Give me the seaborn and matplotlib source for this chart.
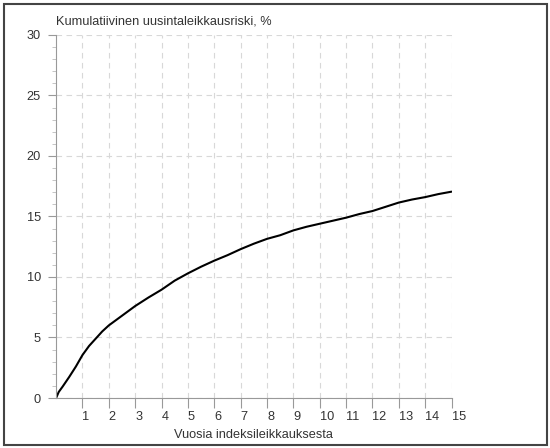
import matplotlib
matplotlib.use("Agg")
import matplotlib.pyplot as plt
import matplotlib.patches as mpatches
from matplotlib.ticker import MultipleLocator
import seaborn as sns
import pandas as pd

years = [0, 0.1, 0.25, 0.5, 0.75, 1.0, 1.25, 1.5, 1.75, 2.0, 2.5, 3.0, 3.5, 4.0, 4.5,
         5.0, 5.5, 6.0, 6.5, 7.0, 7.5, 8.0, 8.5, 9.0, 9.5, 10.0, 10.5, 11.0, 11.5,
         12.0, 12.5, 13.0, 13.5, 14.0, 14.5, 15.0]
risk = [0, 0.5, 0.95, 1.75, 2.6, 3.55, 4.3, 4.9, 5.5, 6.0, 6.8, 7.6, 8.3, 8.95, 9.7,
        10.3, 10.85, 11.35, 11.8, 12.3, 12.75, 13.15, 13.45, 13.85, 14.15, 14.4, 14.65,
        14.9, 15.2, 15.45, 15.8, 16.15, 16.4, 16.6, 16.85, 17.05]
x_ticks = list(range(1, 16))
y_ticks = [0, 5, 10, 15, 20, 25, 30]
title = "Kumulatiivinen uusintaleikkausriski, %"
xlabel = "Vuosia indeksileikkauksesta"

sns.set_theme(style="white")
plt.rcParams['font.family'] = ['Liberation Sans', 'DejaVu Sans']

df = pd.DataFrame({"years": years, "risk": risk})

fig = plt.figure(figsize=(5.5, 4.48), dpi=100)
ax = fig.add_axes([0.102, 0.1116, 0.719, 0.8104])

sns.lineplot(data=df, x="years", y="risk", ax=ax, color="black", linewidth=1.5)

ax.set_xlim(0, 15)
ax.set_ylim(0, 30)
ax.set_xticks(x_ticks)
ax.set_xticklabels([str(t) for t in x_ticks], ha="left")
ax.set_yticks(y_ticks)
ax.yaxis.set_minor_locator(MultipleLocator(1))

text_col = "#333333"
spine_col = "#999999"
fs = 9.2
ax.tick_params(axis="x", which="major", direction="out", length=7, width=0.8,
               color=spine_col, labelsize=fs, labelcolor=text_col, pad=2, bottom=True)
ax.tick_params(axis="y", which="major", direction="out", length=6, width=0.8,
               color=spine_col, labelsize=fs, labelcolor=text_col, pad=5, left=True)
ax.tick_params(axis="y", which="minor", direction="out", length=3, width=0.6,
               color="#bbbbbb", left=True)

for s in ["top", "right"]:
    ax.spines[s].set_visible(False)
for s in ["left", "bottom"]:
    ax.spines[s].set_color(spine_col)
    ax.spines[s].set_linewidth(0.8)

ax.grid(True, which="major", axis="both", color="#d8d8d8", linestyle=(0, (5, 4)), linewidth=0.8)
ax.set_axisbelow(True)

ax.set_xlabel(xlabel, fontsize=fs, color=text_col, labelpad=5)
ax.set_ylabel("")
ax.text(0.0, 1.02, title, transform=ax.transAxes, fontsize=fs, color=text_col,
        ha="left", va="bottom")

border = mpatches.Rectangle((0.007, 0.007), 0.988, 0.984, transform=fig.transFigure,
                            fill=False, edgecolor="#444444", linewidth=1.5)
fig.patches.append(border)

fig.savefig("out.png", dpi=100)
